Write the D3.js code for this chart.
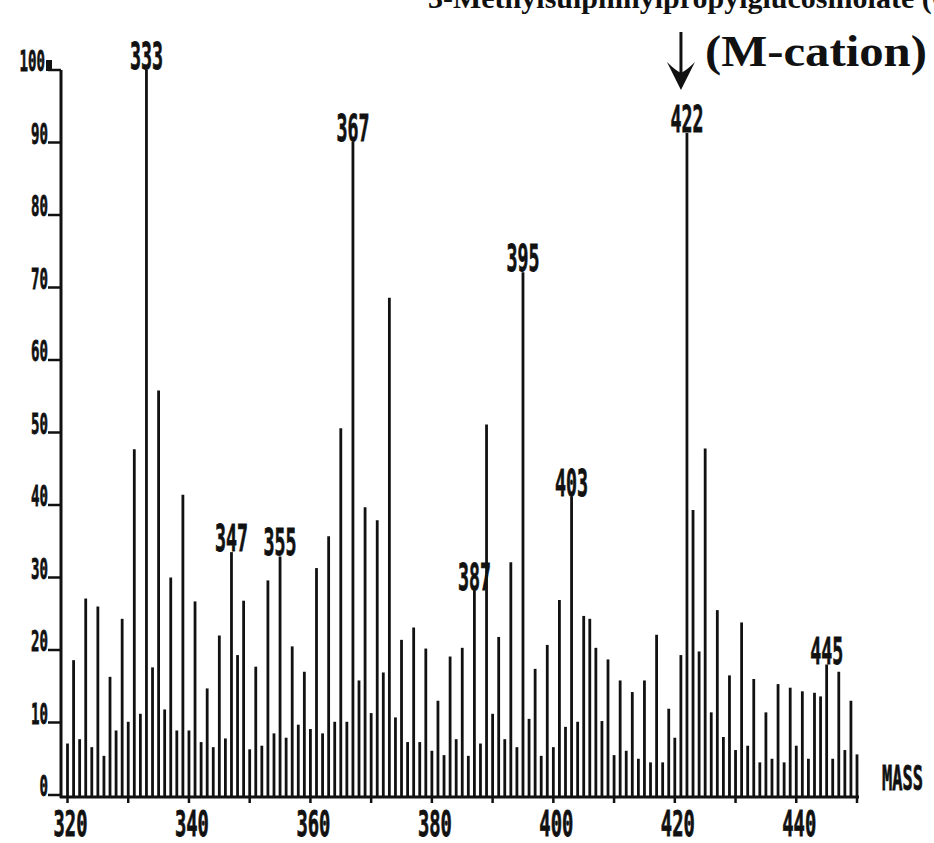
<!DOCTYPE html>
<html>
<head>
<meta charset="utf-8">
<script src="https://cdn.jsdelivr.net/npm/d3@7"></script>
<style>
  body { margin: 0; background: #fff; }
  svg { display: block; }
  .dig { font-family: "DejaVu Sans Mono", monospace; font-weight: bold; fill: #111; stroke: #111; stroke-width: 0.8px; }
  .serif { font-family: "Liberation Serif", "Times New Roman", serif; font-weight: bold; fill: #111; }
</style>
</head>
<body>
<script>
const width = 934;
const height = 843;

// masses (m/z), one bar per integer mass
const masses = [
  320, 321, 322, 323, 324, 325, 326, 327, 328, 329,
  330, 331, 332, 333, 334, 335, 336, 337, 338, 339,
  340, 341, 342, 343, 344, 345, 346, 347, 348, 349,
  350, 351, 352, 353, 354, 355, 356, 357, 358, 359,
  360, 361, 362, 363, 364, 365, 366, 367, 368, 369,
  370, 371, 372, 373, 374, 375, 376, 377, 378, 379,
  380, 381, 382, 383, 384, 385, 386, 387, 388, 389,
  390, 391, 392, 393, 394, 395, 396, 397, 398, 399,
  400, 401, 402, 403, 404, 405, 406, 407, 408, 409,
  410, 411, 412, 413, 414, 415, 416, 417, 418, 419,
  420, 421, 422, 423, 424, 425, 426, 427, 428, 429,
  430, 431, 432, 433, 434, 435, 436, 437, 438, 439,
  440, 441, 442, 443, 444, 445, 446, 447, 448, 449,
  450
];

// relative intensity (%)
const intensities = [
  7.1, 18.6, 7.7, 27.1, 6.6, 26.0, 5.4, 16.3, 8.9, 24.3,
  10.1, 47.7, 11.2, 100, 17.6, 55.8, 11.8, 30.0, 8.9, 41.4,
  8.9, 26.7, 7.3, 14.7, 6.6, 22.0, 7.8, 33.5, 19.3, 26.8,
  6.3, 17.7, 6.8, 29.6, 8.5, 32.9, 7.9, 20.5, 9.7, 17.0,
  9.1, 31.3, 8.5, 35.7, 10.1, 50.6, 10.1, 90.1, 15.8, 39.7,
  11.3, 37.9, 16.9, 68.6, 10.7, 21.4, 7.3, 23.1, 7.3, 20.2,
  6.1, 13.0, 5.5, 19.1, 7.7, 20.3, 5.4, 28.2, 7.1, 51.1,
  11.2, 21.8, 7.7, 32.1, 6.6, 72.1, 10.5, 17.4, 5.4, 20.7,
  6.6, 26.9, 9.4, 41.1, 10.1, 24.7, 24.3, 20.3, 10.2, 18.7,
  5.5, 15.8, 6.1, 14.2, 5.0, 15.8, 4.5, 22.1, 4.5, 11.9,
  7.9, 19.3, 91.3, 39.3, 19.8, 47.8, 11.4, 25.5, 8.0, 16.5,
  6.2, 23.8, 6.8, 16.0, 4.5, 11.4, 5.0, 15.3, 4.5, 14.8,
  6.8, 14.3, 5.0, 14.1, 13.6, 18.0, 5.0, 17.0, 6.2, 13.0,
  5.6
];

// peaks that carry a mass label
const labelledPeaks = [333, 347, 355, 367, 387, 395, 403, 422, 445];

const xTicks = [320, 330, 340, 350, 360, 370, 380, 390, 400, 410, 420, 430, 440, 450];
const xTickLabels = [320, 340, 360, 380, 400, 420, 440];
const yTicks = [0, 10, 20, 30, 40, 50, 60, 70, 80, 90, 100];

const titleText = "3-Methylsulphinylpropylglucosinolate (Glucoiberin)";
const markerText = "(M-cation)";
const markerMass = 422;

const x = d3.scaleLinear().domain([320, 450]).range([67.5, 857]);
const y = d3.scaleLinear().domain([0, 100]).range([795, 70]);

const svg = d3.select('body').append('svg')
  .attr('width', width)
  .attr('height', height);

// title, clipped by the top of the picture
svg.append('text')
  .attr('class', 'serif')
  .attr('x', 428)
  .attr('y', 8)
  .style('font-size', '30px')
  .text(titleText);

// bars
const data = masses.map((m, i) => ({ mass: m, value: intensities[i] }));
svg.append('g')
  .selectAll('line')
  .data(data)
  .enter().append('line')
  .attr('x1', d => x(d.mass))
  .attr('x2', d => x(d.mass))
  .attr('y1', y(0) + 2)
  .attr('y2', d => y(d.value))
  .attr('stroke', '#111')
  .attr('stroke-width', 2.8);

// axes lines
const axisY = y(0) + 2;
svg.append('line')
  .attr('x1', 61).attr('x2', 61)
  .attr('y1', y(100)).attr('y2', axisY + 1)
  .attr('stroke', '#111').attr('stroke-width', 3);
svg.append('line')
  .attr('x1', 60).attr('x2', x(450) + 2)
  .attr('y1', axisY).attr('y2', axisY)
  .attr('stroke', '#111').attr('stroke-width', 3);

// y ticks + labels
const yg = svg.append('g');
yg.selectAll('line')
  .data(yTicks)
  .enter().append('line')
  .attr('x1', 48).attr('x2', 61)
  .attr('y1', d => y(d)).attr('y2', d => y(d))
  .attr('stroke', '#111').attr('stroke-width', 2.5);
yg.selectAll('text')
  .data(yTicks)
  .enter().append('text')
  .attr('class', 'dig')
  .attr('x', d => d === 100 ? 45 : 48)
  .attr('y', d => y(d) + 1)
  .attr('text-anchor', 'end')
  .attr('textLength', d => String(d).length * 8.5)
  .attr('lengthAdjust', 'spacingAndGlyphs')
  .style('font-size', '29px')
  .text(d => d);
// little block after the 100 label
svg.append('rect')
  .attr('x', 46).attr('y', y(100) - 10)
  .attr('width', 6).attr('height', 11)
  .attr('fill', '#111');

// x ticks + labels
const xg = svg.append('g');
xg.selectAll('line')
  .data(xTicks)
  .enter().append('line')
  .attr('x1', d => x(d)).attr('x2', d => x(d))
  .attr('y1', axisY).attr('y2', axisY + 6)
  .attr('stroke', '#111').attr('stroke-width', 2.5);
xg.selectAll('text')
  .data(xTickLabels)
  .enter().append('text')
  .attr('class', 'dig')
  .attr('x', d => x(d) + 3)
  .attr('y', 836)
  .attr('text-anchor', 'middle')
  .attr('textLength', 34)
  .attr('lengthAdjust', 'spacingAndGlyphs')
  .style('font-size', '36px')
  .text(d => d);

svg.append('text')
  .attr('class', 'dig')
  .attr('x', 882)
  .attr('y', 790)
  .attr('textLength', 41)
  .attr('lengthAdjust', 'spacingAndGlyphs')
  .style('font-size', '34px')
  .text('MASS');

// peak labels
const peakData = data.filter(d => labelledPeaks.includes(d.mass));
svg.append('g')
  .selectAll('text')
  .data(peakData)
  .enter().append('text')
  .attr('class', 'dig')
  .attr('x', d => x(d.mass))
  .attr('y', d => y(d.value) - 1)
  .attr('text-anchor', 'middle')
  .attr('textLength', 33)
  .attr('lengthAdjust', 'spacingAndGlyphs')
  .style('font-size', '37px')
  .text(d => d.mass);

// molecular ion marker arrow
const ax = x(markerMass) - 6;
svg.append('line')
  .attr('x1', ax).attr('x2', ax)
  .attr('y1', 32).attr('y2', 80)
  .attr('stroke', '#111').attr('stroke-width', 3);
svg.append('path')
  .attr('d', `M${ax},90 L${ax - 14},62 Q${ax - 6},70 ${ax},73 Q${ax + 6},70 ${ax + 14},62 Z`)
  .attr('fill', '#111');
svg.append('text')
  .attr('class', 'serif')
  .attr('x', ax + 24)
  .attr('y', 66)
  .attr('textLength', 222)
  .attr('lengthAdjust', 'spacingAndGlyphs')
  .style('font-size', '44px')
  .text(markerText);
</script>
</body>
</html>
